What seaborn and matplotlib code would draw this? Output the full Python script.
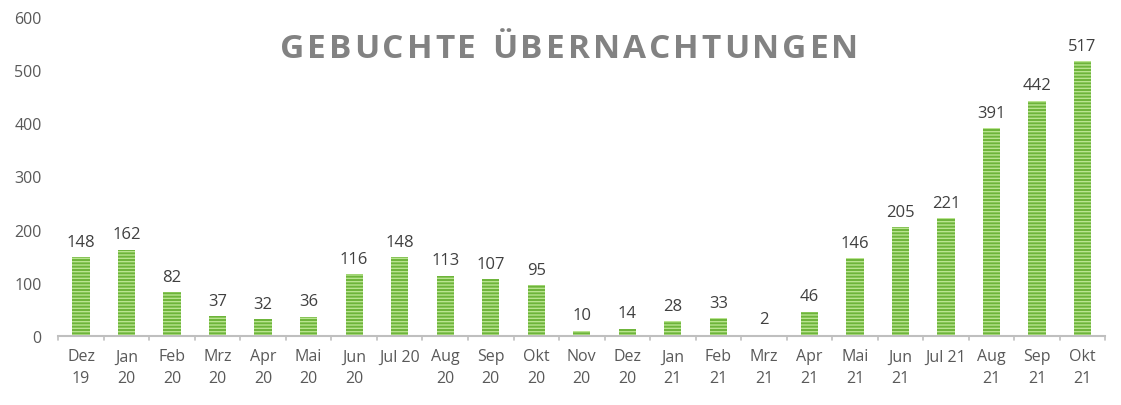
import numpy as np
import pandas as pd
import matplotlib
matplotlib.use("Agg")
import matplotlib.pyplot as plt
import seaborn as sns

# --- Data ---
months = ["Dez\n19", "Jan\n20", "Feb\n20", "Mrz\n20", "Apr\n20", "Mai\n20", "Jun\n20",
          "Jul 20", "Aug\n20", "Sep\n20", "Okt\n20", "Nov\n20", "Dez\n20", "Jan\n21",
          "Feb\n21", "Mrz\n21", "Apr\n21", "Mai\n21", "Jun\n21", "Jul 21", "Aug\n21",
          "Sep\n21", "Okt\n21"]
nights = [148, 162, 82, 37, 32, 36, 116, 148, 113, 107, 95, 10, 14, 28, 33, 2, 46,
          146, 205, 221, 391, 442, 517]
y_ticks = [0, 100, 200, 300, 400, 500, 600]
title = "GEBUCHTE ÜBERNACHTUNGEN"

df = pd.DataFrame({"month": months, "nights": nights})

# --- Style ---
sns.set_theme(style="white")
plt.rcParams['font.family'] = ['Open Sans', 'DejaVu Sans']
plt.rcParams['hatch.linewidth'] = 1.0

fig = plt.figure(figsize=(11.21, 4.06), dpi=100)
ax = fig.add_axes([0.052, 0.170, 0.934, 0.786])

sns.barplot(data=df, x="month", y="nights", color="#7CC043", width=0.38,
            saturation=1, ax=ax, linewidth=0)
for p in ax.patches:
    p.set_facecolor("#6DB43A")
    p.set_edgecolor("#B9E48F")
    p.set_hatch("-----")
    p.set_linewidth(0)

for i, v in enumerate(nights):
    ax.text(i, v + 14, str(v), ha="center", va="bottom", fontsize=12, color="#404040")

ax.set_ylim(0, 600)
ax.set_yticks(y_ticks)
ax.set_xlim(-0.5, len(months) - 0.5)
ax.set_xlabel("")
ax.set_ylabel("")
ax.tick_params(axis="y", labelsize=11.5, labelcolor="#595959", length=0, pad=12)
ax.tick_params(axis="x", labelsize=11.5, labelcolor="#595959", length=0, pad=9)
for lab in ax.get_xticklabels():
    lab.set_linespacing(1.45)

for s in ["top", "right", "left"]:
    ax.spines[s].set_visible(False)
ax.spines["bottom"].set_color("#BFBFBF")
ax.spines["bottom"].set_linewidth(1.5)

# small ticks between categories
for b in np.arange(-0.5, len(months), 1.0):
    ax.plot([b, b], [0, -7], color="#BFBFBF", lw=1.2, clip_on=False)

# --- Letter-spaced title, one character at a time ---
renderer = fig.canvas.get_renderer()
spacing = 3.0  # extra px between letters
widths = []
for ch in title:
    t = fig.text(0, 0, ch if ch != " " else "n", fontsize=24, fontweight="bold")
    w = t.get_window_extent(renderer).width
    if ch == " ":
        w *= 0.45
    widths.append(w)
    t.remove()
total = sum(widths) + spacing * (len(title) - 1)
x_px = 569 - total / 2
for ch, w in zip(title, widths):
    if ch != " ":
        fig.text(x_px / fig.bbox.width, 0.878, ch, ha="left", va="center",
                 fontsize=24, fontweight="bold", color="#828282")
    x_px += w + spacing

fig.savefig("out.png", dpi=100, facecolor="white")
